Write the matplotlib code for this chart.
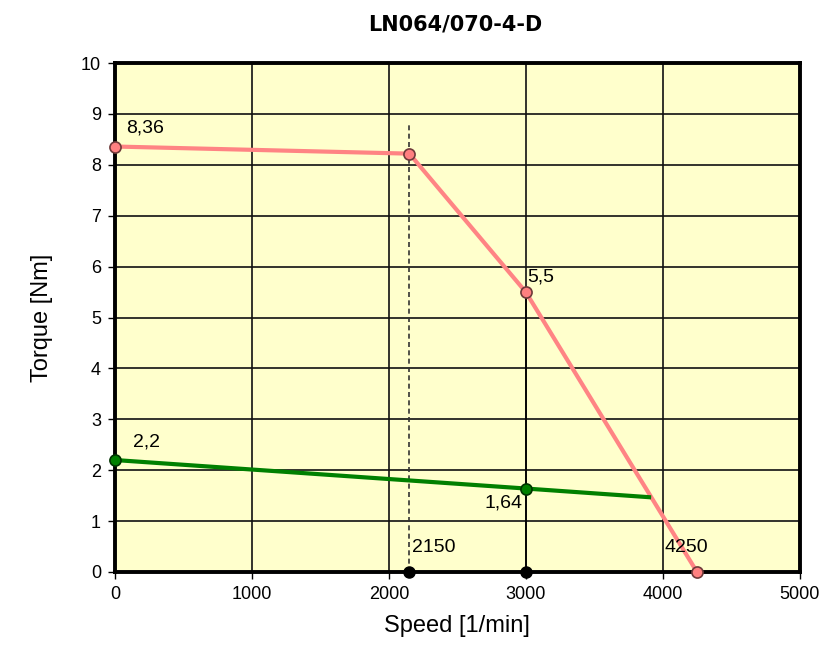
import matplotlib
matplotlib.use("Agg")
import matplotlib.pyplot as plt

plt.rcParams['font.family'] = ['Liberation Sans', 'DejaVu Sans']

# peak torque curve
peak_speed = [0, 2150, 3000, 4250]
peak_torque = [8.36, 8.22, 5.5, 0]
# continuous torque curve
cont_speed = [0, 3000, 3900]
cont_torque = [2.2, 1.64, 1.47]
cont_markers = [0, 1]
# speed markers on the axis
marker_speed = [2150, 3000]
dash_top = 8.8

# value labels: (x, y, text, ha)
labels = [
    (80, 8.64, '8,36', 'left'),
    (3007, 5.70, '5,5', 'left'),
    (131, 2.46, '2,2', 'left'),
    (2978, 1.26, '1,64', 'right'),
    (2168, 0.39, '2150', 'left'),
    (4015, 0.39, '4250', 'left'),
]

fig = plt.figure(figsize=(8.27, 6.5), dpi=100)
ax = fig.add_axes([0.139, 0.12, 0.828, 0.783])
ax.set_facecolor('#FFFFCC')

ax.set_xlim(0, 5000)
ax.set_ylim(0, 10)
ax.set_xticks(range(0, 5001, 1000))
ax.set_yticks(range(0, 11))
ax.grid(True, color='#111111', linewidth=1.2)
ax.set_axisbelow(True)

for s in ax.spines.values():
    s.set_linewidth(2.8)
    s.set_color('black')
ax.tick_params(direction='out', length=5, width=1, pad=5, labelsize=13, colors='black')

# vertical marker lines
ax.plot([marker_speed[0], marker_speed[0]], [0, dash_top], color='#333333',
        linestyle=(0, (3, 2)), linewidth=1.2, zorder=2)
ax.plot([marker_speed[1], marker_speed[1]], [0, peak_torque[2]], color='black',
        linewidth=1.2, zorder=2)

ax.plot(peak_speed, peak_torque, color='#FF8484', linewidth=3, zorder=3)
ax.plot(peak_speed, peak_torque, 'o', markersize=8, markerfacecolor='#FF8080',
        markeredgecolor='#6F3A3A', markeredgewidth=1.2, zorder=5, clip_on=False)

ax.plot(cont_speed, cont_torque, color='#008000', linewidth=3, zorder=3)
ax.plot([cont_speed[i] for i in cont_markers], [cont_torque[i] for i in cont_markers], 'o',
        markersize=8, markerfacecolor='#008000', markeredgecolor='#003300',
        markeredgewidth=1.2, zorder=5, clip_on=False)

ax.plot(marker_speed, [0, 0], 'o', markersize=8, color='black', zorder=6, clip_on=False)

for x, y, t, ha in labels:
    ax.text(x, y, t, fontsize=14, ha=ha, va='baseline', zorder=7)

ax.set_xlabel('Speed [1/min]', fontsize=17, labelpad=9)
ax.set_ylabel('Torque [Nm]', fontsize=17, labelpad=20)
fig.text(0.550, 0.962, 'LN064/070-4-D', fontsize=15, fontweight='bold', ha='center', va='center',
         family='DejaVu Sans')

fig.savefig('out.png', dpi=100, facecolor='white')
